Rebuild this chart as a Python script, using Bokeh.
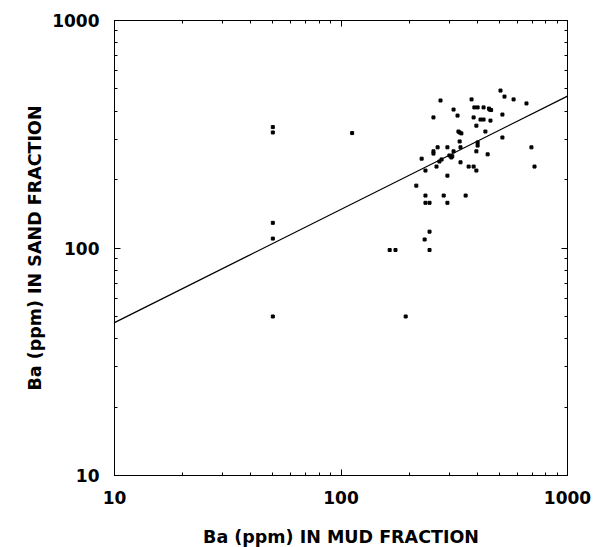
from bokeh.plotting import figure
from bokeh.models import LogAxis, FixedTicker
from bokeh.embed import file_html
from bokeh.resources import INLINE

# Ba (ppm) in mud fraction (x) vs sand fraction (y)
mud_ba = [50, 50, 50, 50, 50, 112,
          506, 527, 578, 659, 275, 377, 388, 401, 426, 453, 460, 450,
          314, 327, 256, 385, 516, 413, 426, 457, 396, 434, 334, 340, 330,
          334, 516, 401, 401, 337, 267, 295, 256, 256, 693, 314, 396, 444,
          301, 307, 310, 278, 272, 227, 337, 264, 236, 366, 385, 396, 715,
          295, 215, 236, 284, 355, 236, 246, 295, 246, 234, 164, 174, 246, 193]
sand_ba = [340, 322, 129, 110, 50, 320,
           492, 463, 450, 432, 445, 450, 415, 415, 415, 406, 404, 410,
           406, 382, 375, 375, 386, 367, 367, 363, 345, 325, 322, 319, 325,
           294, 306, 291, 282, 277, 277, 277, 266, 260, 277, 266, 266, 258,
           255, 250, 253, 245, 240, 247, 238, 228, 219, 228, 228, 219, 228,
           208, 188, 170, 170, 170, 158, 158, 158, 118, 109, 98, 98, 98, 50]

# regression line endpoints
fit_x = [10, 1000]
fit_y = [47, 465]

major = [10, 100, 1000]
major_labels = ["10", "100", "1000"]
minor = [20, 30, 40, 50, 60, 70, 80, 90, 200, 300, 400, 500, 600, 700, 800, 900]

FONT = "DejaVu Sans"

p = figure(frame_width=453, frame_height=455, x_axis_type="log", y_axis_type="log",
           x_range=(10, 1000), y_range=(10, 1000),
           output_backend="svg", toolbar_location=None,
           min_border_left=114, min_border_right=29,
           min_border_top=20, min_border_bottom=0)
p.background_fill_color = "white"
p.border_fill_color = "white"
p.outline_line_color = "black"
p.outline_line_width = 1
p.xgrid.visible = False
p.ygrid.visible = False

p.line(fit_x, fit_y, line_color="black", line_width=1.3)
p.scatter(mud_ba, sand_ba, marker="square", size=3, fill_color="black",
          line_color="black")

p.add_layout(LogAxis(), "right")
p.add_layout(LogAxis(), "above")

overrides = {t: s for t, s in zip(major, major_labels)}

for ax in p.xaxis + p.yaxis:
    ax.ticker = FixedTicker(ticks=major, minor_ticks=minor)
    ax.major_label_overrides = overrides
    ax.major_tick_in = 6
    ax.major_tick_out = 0
    ax.minor_tick_in = 3
    ax.minor_tick_out = 0
    ax.axis_line_color = "black"
    ax.major_tick_line_color = "black"
    ax.minor_tick_line_color = "black"
    ax.major_label_text_font = FONT
    ax.major_label_text_font_style = "bold"
    ax.major_label_text_font_size = "17px"
    ax.major_label_text_color = "black"
    ax.axis_label_text_font = FONT
    ax.axis_label_text_font_style = "bold"
    ax.axis_label_text_font_size = "17.5px"
    ax.axis_label_text_color = "black"

# hide labels on right/top axes
for ax in (p.right[0], p.above[0]):
    ax.major_label_text_font_size = "1px"
    ax.major_label_text_alpha = 0
    ax.major_label_standoff = 0

bx = p.below[0]
bx.axis_label = "Ba (ppm) IN MUD FRACTION"
bx.major_label_standoff = 15
bx.axis_label_standoff = 20

ly = p.left[0]
ly.axis_label = "Ba (ppm) IN SAND FRACTION"
ly.major_label_standoff = 15
ly.axis_label_standoff = 4

open("out.html", "w").write(file_html(p, INLINE))
